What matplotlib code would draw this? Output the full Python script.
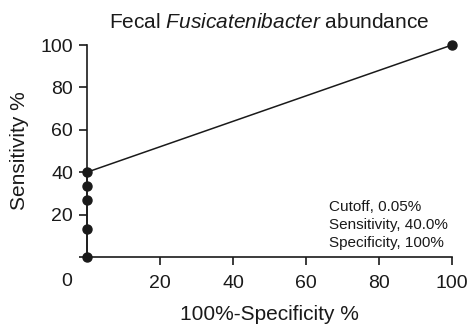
import matplotlib
matplotlib.use("Agg")
import matplotlib.pyplot as plt

plt.rcParams['font.family'] = ['Liberation Sans', 'DejaVu Sans']
plt.rcParams['mathtext.fontset'] = 'custom'
plt.rcParams['mathtext.it'] = 'Liberation Sans:italic'
plt.rcParams['mathtext.rm'] = 'Liberation Sans'

x_vals = [0, 0, 0, 0, 0, 100]
y_vals = [0, 13.3, 26.7, 33.3, 40, 100]
x_ticks = [20, 40, 60, 80, 100]
y_ticks = [0, 20, 40, 60, 80, 100]
y_ticklabels = ['', '20', '40', '60', '80', '100']
notes = ["Cutoff, 0.05%", "Sensitivity, 40.0%", "Specificity, 100%"]

W, H = 470, 325
fig = plt.figure(figsize=(W/100, H/100), dpi=100)
L, R, B, T = 87, 452, 257, 45
ax = fig.add_axes([L/W, 1-B/H, (R-L)/W, (B-T)/H])

ink = '#1a1a1a'
ax.plot(x_vals, y_vals, color=ink, lw=1.1, marker='o', ms=6.5,
        mfc=ink, mec=ink, clip_on=False, zorder=5)

ax.set_xlim(0, 100)
ax.set_ylim(0, 100)
ax.spines['top'].set_visible(False)
ax.spines['right'].set_visible(False)
for s in ['left', 'bottom']:
    ax.spines[s].set_linewidth(1.2)
    ax.spines[s].set_color(ink)

ax.set_xticks(x_ticks)
ax.set_yticks(y_ticks)
ax.set_yticklabels(y_ticklabels)
ax.tick_params(axis='both', direction='out', length=6, width=1.2, color=ink,
               labelsize=14, labelcolor=ink)
ax.tick_params(axis='x', pad=7)
ax.tick_params(axis='y', pad=4)

# origin label "0"
ax.annotate('0', xy=(0, 0), xycoords='data', xytext=(-20, -25), textcoords='offset pixels',
            ha='center', va='center', fontsize=14, color=ink)

ax.set_xlabel('100%-Specificity %', fontsize=15, color=ink)
ax.xaxis.set_label_coords(0.5, (B-314)/(B-T))
ax.xaxis.label.set_va('center')
ax.set_ylabel('Sensitivity %', fontsize=15, color=ink)
ax.yaxis.set_label_coords((20-L)/(R-L), 0.5)
ax.yaxis.label.set_va('center')

fig.text((L+R)/2/W, 1-23/H, r'Fecal $\mathit{Fusicatenibacter}$ abundance',
         fontsize=15, color=ink, ha='center', va='center')

for i, t in enumerate(notes):
    fig.text(329/W, 1-(207+18*i)/H, t, fontsize=11, color=ink,
             ha='left', va='center')

fig.savefig('out.png', dpi=100)
